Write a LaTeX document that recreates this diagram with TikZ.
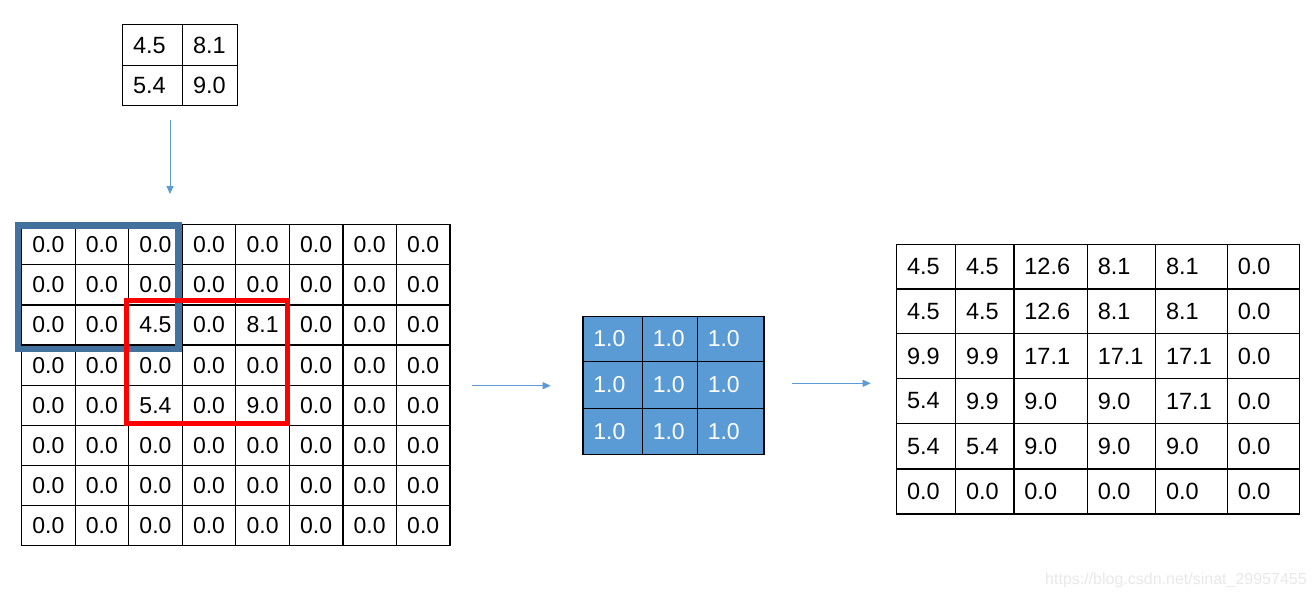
\documentclass[tikz,border=0pt]{standalone}
\usepackage{fontspec}
\setmainfont{Liberation Sans}
\usetikzlibrary{arrows.meta}

\definecolor{kernblue}{RGB}{91,155,213}
\definecolor{winblue}{RGB}{65,113,156}
\definecolor{markgray}{RGB}{232,232,232}

\tikzset{
  cell/.style={draw, line width=1.2pt, anchor=north west, inner sep=0pt,
    font=\fontsize{23.5}{24}\selectfont},
  leftcell/.style={cell, inner xsep=10.5pt, align=left},
  flow/.style={draw=kernblue, line width=1pt, -{Triangle[length=8pt,width=7pt]}},
}

\begin{document}
\begin{tikzpicture}[x=1pt, y=-1pt]
  \useasboundingbox (0,0) rectangle (1315,600);

  % pooled input, 2x2
  \def\topx{{122,182,237}}
  \def\topy{{24,65,105}}
  \foreach \row [count=\r] in {{4.5,8.1},{5.4,9.0}} {
    \foreach \v [count=\c] in \row {
      \pgfmathsetmacro\xa{\topx[\c-1]}
      \pgfmathsetmacro\ya{\topy[\r-1]}
      \pgfmathsetmacro\tw{\topx[\c]-\topx[\c-1]-21}
      \pgfmathsetmacro\h{\topy[\r]-\topy[\r-1]}
      \node[leftcell, text width=\tw pt, minimum height=\h pt] (top-\r-\c) at (\xa,\ya) {\v};
    }
  }

  % padded / unpooled map, 8x8
  \foreach \row [count=\r] in {
      {0.0,0.0,0.0,0.0,0.0,0.0,0.0,0.0},
      {0.0,0.0,0.0,0.0,0.0,0.0,0.0,0.0},
      {0.0,0.0,4.5,0.0,8.1,0.0,0.0,0.0},
      {0.0,0.0,0.0,0.0,0.0,0.0,0.0,0.0},
      {0.0,0.0,5.4,0.0,9.0,0.0,0.0,0.0},
      {0.0,0.0,0.0,0.0,0.0,0.0,0.0,0.0},
      {0.0,0.0,0.0,0.0,0.0,0.0,0.0,0.0},
      {0.0,0.0,0.0,0.0,0.0,0.0,0.0,0.0}} {
    \foreach \v [count=\c] in \row {
      \node[cell, font=\fontsize{23}{24}\selectfont, minimum width=53.55pt, minimum height=40.16pt]
        (in-\r-\c) at ({21+53.55*(\c-1)}, {224+40.16*(\r-1)}) {\v};
    }
  }

  % kernel windows
  \draw[winblue, line width=6.5pt] (18,225.7) rectangle (178.7,348.8);
  \draw[red, line width=5.5pt] (126.3,300.7) rectangle (287.5,423.3);

  % kernel, 3x3
  \def\kx{{582.3,641.7,696.7,763.3}}
  \def\ky{{315.7,361,407.7,454}}
  \foreach \r in {1,2,3} {
    \foreach \c in {1,2,3} {
      \pgfmathsetmacro\xa{\kx[\c-1]}
      \pgfmathsetmacro\ya{\ky[\r-1]}
      \pgfmathsetmacro\tw{\kx[\c]-\kx[\c-1]-21}
      \pgfmathsetmacro\h{\ky[\r]-\ky[\r-1]}
      \node[leftcell, fill=kernblue, text=white, font=\fontsize{23}{24}\selectfont,
        text width=\tw pt, minimum height=\h pt] (ker-\r-\c) at (\xa,\ya) {1.0};
    }
  }

  % result, 6x6
  \def\ox{{896,955,1013.3,1086.7,1155,1226.7,1299}}
  \def\oy{{244,288.3,332.7,378,422.7,468.3,513.3}}
  \foreach \row [count=\r] in {
      {4.5,4.5,12.6,8.1,8.1,0.0},
      {4.5,4.5,12.6,8.1,8.1,0.0},
      {9.9,9.9,17.1,17.1,17.1,0.0},
      {5.4,9.9,9.0,9.0,17.1,0.0},
      {5.4,5.4,9.0,9.0,9.0,0.0},
      {0.0,0.0,0.0,0.0,0.0,0.0}} {
    \foreach \v [count=\c] in \row {
      \pgfmathsetmacro\xa{\ox[\c-1]}
      \pgfmathsetmacro\ya{\oy[\r-1]}
      \pgfmathsetmacro\tw{\ox[\c]-\ox[\c-1]-21}
      \pgfmathsetmacro\h{\oy[\r]-\oy[\r-1]}
      \node[leftcell, text width=\tw pt, minimum height=\h pt] (out-\r-\c) at (\xa,\ya) {\v};
    }
  }

  % arrows
  \coordinate (drop-top) at (170,120);
  \coordinate (drop-end) at (170,194);
  \coordinate (pad-out) at (471.7,385.7);
  \coordinate (conv-in) at (550.7,385.7);
  \coordinate (conv-out) at (791.7,383.3);
  \coordinate (res-in) at (870.7,383.3);
  \draw[flow] (drop-top) -- (drop-end);
  \draw[flow] (pad-out) -- (conv-in);
  \draw[flow] (conv-out) -- (res-in);

  \node[text=markgray, font=\fontsize{16}{16}\selectfont, anchor=west, inner sep=0pt]
    (mark) at (1045,580.5) {https://blog.csdn.net/sinat\_29957455};
\end{tikzpicture}
\end{document}
